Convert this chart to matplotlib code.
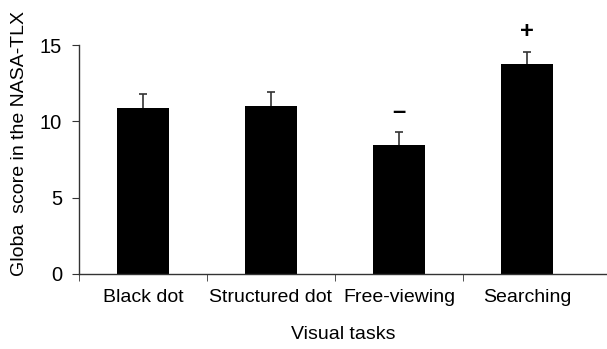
import matplotlib
matplotlib.use("Agg")
import matplotlib.pyplot as plt
import numpy as np

categories = ["Black dot", "Structured dot", "Free-viewing", "Searching"]
means = [10.85, 11.0, 8.45, 13.73]
errors = [0.95, 0.95, 0.87, 0.83]
marks = ["", "", "–", "+"]

plt.rcParams['font.family'] = ['Liberation Sans', 'DejaVu Sans']

fig = plt.figure(figsize=(6.07, 3.49), dpi=100)
ax = fig.add_axes([0.130, 0.215, 0.870, 0.656])

x = np.arange(len(categories))
ax.bar(x, means, width=0.41, color='black', zorder=2)
eb = ax.errorbar(x, means, yerr=[np.zeros(len(errors)), errors], fmt='none',
                 ecolor='#333333', elinewidth=1.2, capsize=3, capthick=1.2, zorder=1)
eb[1][0].set_visible(False)

for xi, m, e, s in zip(x, means, errors, marks):
    if s:
        ax.text(xi, m + e + 0.55, s, ha='center', va='bottom', fontsize=17,
                fontweight='bold', clip_on=False)

ax.set_xlim(-0.5, 3.625)
ax.set_ylim(0, 15)
ax.set_yticks([0, 5, 10, 15])
ax.set_xticks(x)
ax.set_xticklabels(categories, fontsize=14)
ax.set_xticks(np.arange(-0.5, 3.0, 1.0), minor=True)
ax.tick_params(axis='x', which='major', length=0, pad=11)
ax.tick_params(axis='x', which='minor', length=5, direction='out', color='#333333')
ax.tick_params(axis='y', length=5, pad=7, direction='out', labelsize=14.5, color='#333333')

for sp in ['top', 'right']:
    ax.spines[sp].set_visible(False)
for sp in ['left', 'bottom']:
    ax.spines[sp].set_color('#333333')
    ax.spines[sp].set_linewidth(1.0)

ax.set_ylabel("Globa  score in the NASA-TLX", fontsize=14)
ax.yaxis.set_label_coords(-0.097, 0.57)
ax.set_xlabel("Visual tasks", fontsize=14, labelpad=14)

fig.savefig("out.png", dpi=100)
